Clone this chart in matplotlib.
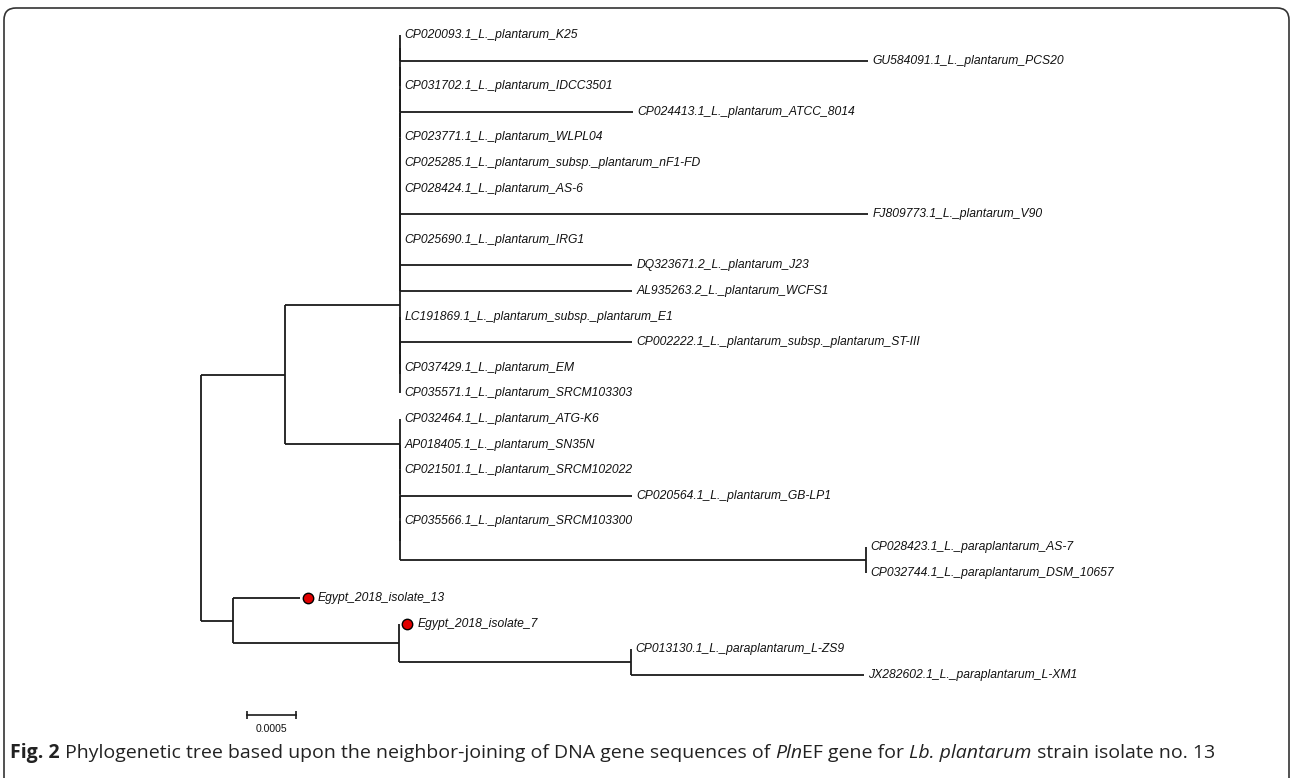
import matplotlib.pyplot as plt
from matplotlib.patches import FancyBboxPatch
from matplotlib.transforms import offset_copy

# leaves, top to bottom
taxa = [
    "CP020093.1_L._plantarum_K25",
    "GU584091.1_L._plantarum_PCS20",
    "CP031702.1_L._plantarum_IDCC3501",
    "CP024413.1_L._plantarum_ATCC_8014",
    "CP023771.1_L._plantarum_WLPL04",
    "CP025285.1_L._plantarum_subsp._plantarum_nF1-FD",
    "CP028424.1_L._plantarum_AS-6",
    "FJ809773.1_L._plantarum_V90",
    "CP025690.1_L._plantarum_IRG1",
    "DQ323671.2_L._plantarum_J23",
    "AL935263.2_L._plantarum_WCFS1",
    "LC191869.1_L._plantarum_subsp._plantarum_E1",
    "CP002222.1_L._plantarum_subsp._plantarum_ST-III",
    "CP037429.1_L._plantarum_EM",
    "CP035571.1_L._plantarum_SRCM103303",
    "CP032464.1_L._plantarum_ATG-K6",
    "AP018405.1_L._plantarum_SN35N",
    "CP021501.1_L._plantarum_SRCM102022",
    "CP020564.1_L._plantarum_GB-LP1",
    "CP035566.1_L._plantarum_SRCM103300",
    "CP028423.1_L._paraplantarum_AS-7",
    "CP032744.1_L._paraplantarum_DSM_10657",
    "Egypt_2018_isolate_13",
    "Egypt_2018_isolate_7",
    "CP013130.1_L._paraplantarum_L-ZS9",
    "JX282602.1_L._paraplantarum_L-XM1",
]
tip_len = [0, 0.00474, 0, 0.00236, 0, 0, 0, 0.00474, 0, 0.00235, 0.00235, 0,
           0.00235, 0, 0, 0, 0, 0, 0.00235, 0, 0, 0, 0.00068, 0, 0, 0.00236]
marked = [22, 23]

# internal nodes: name -> (children, branch length to parent)
clades = {
    "a1": ((0, 1), 0.0),
    "a2": (("a1", 2), 0.0),
    "a3": (("a2", 3), 0.0),
    "a4": (("a3", 4), 0.0),
    "a5": (("a4", 5), 0.0),
    "a6": (("a5", 6), 0.0),
    "a7": (("a6", 7), 0.0),
    "a8": (("a7", 8), 0.0),
    "a9": (("a8", 9), 0.0),
    "a10": (("a9", 10), 0.0),
    "aq2": ((12, 13), 0.0),
    "aq1": (("aq2", 14), 0.0),
    "aq": ((11, "aq1"), 0.0),
    "A": (("a10", "aq"), 0.00117),
    "para": ((20, 21), 0.00472),
    "b4": ((19, "para"), 0.0),
    "b3": ((18, "b4"), 0.0),
    "b2": ((17, "b3"), 0.0),
    "b1": ((16, "b2"), 0.0),
    "B": ((15, "b1"), 0.00117),
    "top": (("A", "B"), 0.00085),
    "L": ((24, 25), 0.00235),
    "n7": ((23, "L"), 0.00169),
    "iso": ((22, "n7"), 0.00032),
    "root": (("top", "iso"), 0.0),
}
scale_len = 0.0005

W, H = 1292, 778
unit = 0.001 / 98.7      # substitutions per pixel
row = 25.6               # pixels per leaf

fig = plt.figure(figsize=(W / 100, H / 100), dpi=100)
ax = fig.add_axes([0, 0, 1, 1])
ax.set_xlim(-201 * unit, (W - 201) * unit)
ax.set_ylim((H - 35) / row, -35 / row)
ax.axis("off")

pos = {}
lc = "#1a1a1a"
lw = 1.3


def layout(node, x0):
    if isinstance(node, int):
        pos[node] = (x0 + tip_len[node], node)
        return node
    kids, blen = clades[node]
    x = x0 + blen
    ys = [layout(k, x) for k in kids]
    y = (ys[0] + ys[-1]) / 2
    pos[node] = (x, y)
    ax.plot([x, x], [ys[0], ys[-1]], color=lc, lw=lw, solid_capstyle="butt")
    for k in kids:
        kx, ky = pos[k]
        if kx > x:
            ax.plot([x, kx], [ky, ky], color=lc, lw=lw, solid_capstyle="butt")
    return y


layout("root", 0.0)

lab_font = ["Liberation Sans Narrow", "Liberation Sans", "DejaVu Sans"]
dot_tr = offset_copy(ax.transData, fig=fig, x=8, y=0, units="dots")
for i, name in enumerate(taxa):
    x, y = pos[i]
    dx = 3
    if i in marked:
        ax.plot([x], [y], "o", ms=7.5, mfc="#e00000", mec="black", mew=1,
                transform=dot_tr)
        dx = 13
    ax.annotate(name, (x, y), xytext=(dx, 0), textcoords="offset points",
                ha="left", va="center", fontsize=8.7, style="italic",
                family=lab_font, color="#111111")

# scale bar
sx, sy = 0.000463, (715 - 35) / row
ax.plot([sx, sx + scale_len], [sy, sy], color=lc, lw=1.2, marker="|", ms=6,
        mew=1.2)
ax.text(sx + scale_len / 2, (729 - 35) / row, "0.0005", ha="center", va="center",
        fontsize=7.5, family=lab_font, color="#111111")

# frame
frame = FancyBboxPatch((0.04, -0.3), 12.85, 8.0, boxstyle="round,pad=0,rounding_size=0.12",
                       transform=fig.dpi_scale_trans, fill=False, ec="#333333", lw=1.2)
fig.add_artist(frame)

# caption
cap_font = ["Open Sans", "DejaVu Sans"]
parts = [
    ("Fig. 2", "normal", "bold"),
    (" Phylogenetic tree based upon the neighbor-joining of DNA gene sequences of ", "normal", "normal"),
    ("Pln", "italic", "normal"),
    ("EF gene for ", "normal", "normal"),
    ("Lb. plantarum", "italic", "normal"),
    (" strain isolate no. 13", "normal", "normal"),
]
renderer = fig.canvas.get_renderer()
cx = 10
cy = 1 - 753 / H
for s, st, wt in parts:
    kw = dict(fontsize=14, family=cap_font, style=st, weight=wt, color="#222222",
              va="center", ha="left")
    fig.text(cx / W, cy, s, **kw)
    probe = fig.text(0, 0, s + "|", **kw)
    bar = fig.text(0, 0, "|", **kw)
    cx += probe.get_window_extent(renderer).width - bar.get_window_extent(renderer).width
    probe.remove()
    bar.remove()

fig.savefig("out.png", dpi=100)
